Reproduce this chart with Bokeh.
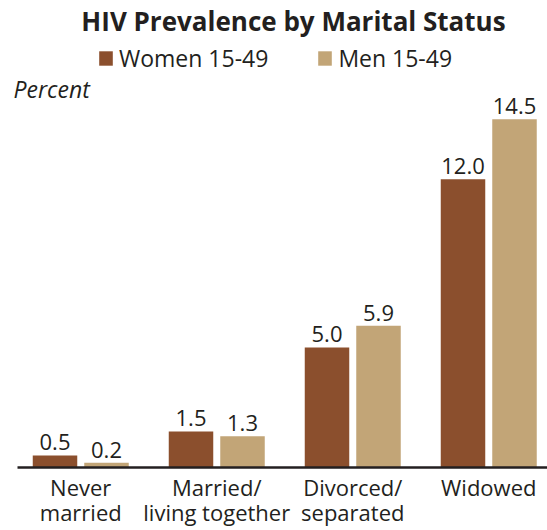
from bokeh.plotting import figure
from bokeh.models import ColumnDataSource, Range1d, FixedTicker, Label, Legend, LegendItem
from bokeh.transform import dodge
from bokeh.core.properties import value
from bokeh.embed import file_html
from bokeh.resources import INLINE

# ---- data ----
categories = ["Never\nmarried", "Married/\nliving together", "Divorced/\nseparated", "Widowed"]
women = [0.5, 1.5, 5.0, 12.0]
men = [0.2, 1.3, 5.9, 14.5]
series_names = ["Women 15-49", "Men 15-49"]
title_text = "HIV Prevalence by Marital Status"
unit_text = "Percent"

# ---- styling / layout ----
WOMEN_COLOR = "#8B4F2D"
MEN_COLOR = "#C2A577"
TEXT_COLOR = "#231F20"
FONT = "Open Sans"

W, H = 547, 530
FRAME_LEFT = 0
AXIS_LEFT = 17
FRAME_BOTTOM = 468
PX_PER_UNIT = 24.07
PX_PER_GROUP = 136.0
X_START = 1 - (80.25 - FRAME_LEFT) / PX_PER_GROUP
X_END = X_START + (W - FRAME_LEFT) / PX_PER_GROUP
Y_END = FRAME_BOTTOM / PX_PER_UNIT
BAR_W = 44.5 / PX_PER_GROUP
OFFSET = 25.75 / PX_PER_GROUP


def fx(px):
    return X_START + (px - FRAME_LEFT) / PX_PER_GROUP


def fy(py):
    return (FRAME_BOTTOM - py) / PX_PER_UNIT


positions = [i + 1 for i in range(len(categories))]
source = ColumnDataSource(dict(
    x=positions,
    women=women,
    men=men,
    women_lbl=[f"{v:.1f}" for v in women],
    men_lbl=[f"{v:.1f}" for v in men],
))

p = figure(width=W, height=H, output_backend="svg", toolbar_location=None,
           x_range=Range1d(X_START, X_END), y_range=Range1d(0, Y_END),
           y_axis_location=None, min_border_left=FRAME_LEFT, min_border_right=0,
           min_border_top=0, min_border_bottom=H - FRAME_BOTTOM)
p.outline_line_color = None
p.xgrid.visible = False
p.ygrid.visible = False
p.background_fill_color = "white"
p.border_fill_color = "white"

rw = p.vbar(x=dodge("x", -OFFSET, range=p.x_range), top="women", width=BAR_W,
            bottom=0, source=source, fill_color=WOMEN_COLOR, line_color=None)
rm = p.vbar(x=dodge("x", OFFSET, range=p.x_range), top="men", width=BAR_W,
            bottom=0, source=source, fill_color=MEN_COLOR, line_color=None)

for col, off in (("women_lbl", -OFFSET), ("men_lbl", OFFSET)):
    p.text(x=dodge("x", off, range=p.x_range), y=col.replace("_lbl", ""), text=col,
           source=source, text_align="center", text_baseline="alphabetic",
           y_offset=-13, text_font=value(FONT), text_font_size="22px",
           text_color=TEXT_COLOR)

ax = p.xaxis[0]
ax.ticker = FixedTicker(ticks=positions)
ax.major_label_overrides = dict(zip(positions, categories))
ax.bounds = (fx(AXIS_LEFT), X_END)
ax.major_tick_line_color = None
ax.minor_tick_line_color = None
ax.axis_line_width = 2.5
ax.axis_line_color = TEXT_COLOR
ax.major_label_text_font = FONT
ax.major_label_text_font_size = "22px"
ax.major_label_text_color = TEXT_COLOR
ax.major_label_text_line_height = 0.86
ax.major_label_standoff = -2

p.add_layout(Label(x=fx(293), y=fy(21), text=title_text, text_align="center",
                   text_baseline="alphabetic", text_font=FONT, text_font_style="bold",
                   text_font_size="26px", text_color=TEXT_COLOR))
p.add_layout(Label(x=fx(13), y=fy(89), text=unit_text, text_align="left",
                   text_baseline="alphabetic", text_font=FONT, text_font_style="italic",
                   text_font_size="23px", text_color=TEXT_COLOR))

legend = Legend(items=[LegendItem(label=series_names[0], renderers=[rw]),
                       LegendItem(label=series_names[1], renderers=[rm])],
                orientation="horizontal", location=(80 + AXIS_LEFT - FRAME_LEFT, FRAME_BOTTOM - 75),
                padding=0, margin=0, spacing=48, border_line_color=None,
                background_fill_alpha=0, glyph_width=17, glyph_height=18,
                label_standoff=5, label_text_font=FONT, label_text_font_size="23px",
                label_text_color=TEXT_COLOR, label_height=18)
p.add_layout(legend)

open("out.html", "w").write(file_html(p, INLINE))
